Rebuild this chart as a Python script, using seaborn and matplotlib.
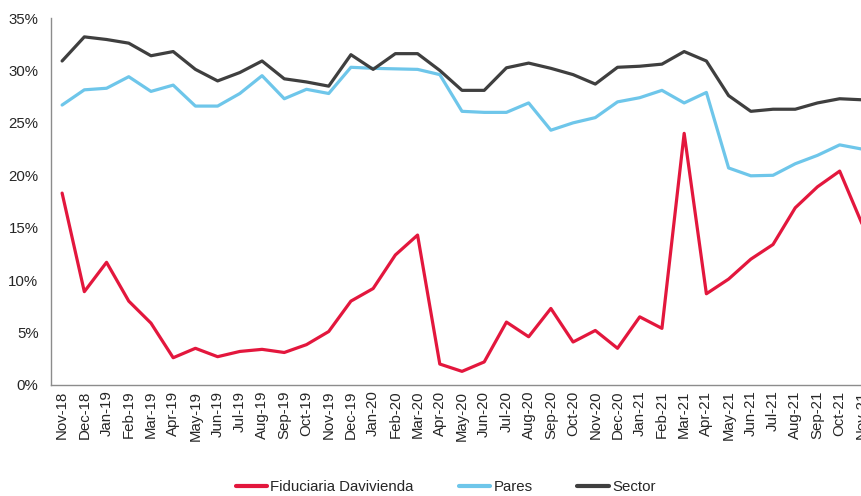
import numpy as np
import pandas as pd
import matplotlib
matplotlib.use('Agg')
import matplotlib.pyplot as plt
from matplotlib.ticker import PercentFormatter
import seaborn as sns

# Monthly series, Nov-18 .. Nov-21
months = ['Nov-18', 'Dec-18', 'Jan-19', 'Feb-19', 'Mar-19', 'Apr-19', 'May-19', 'Jun-19',
          'Jul-19', 'Aug-19', 'Sep-19', 'Oct-19', 'Nov-19', 'Dec-19', 'Jan-20', 'Feb-20',
          'Mar-20', 'Apr-20', 'May-20', 'Jun-20', 'Jul-20', 'Aug-20', 'Sep-20', 'Oct-20',
          'Nov-20', 'Dec-20', 'Jan-21', 'Feb-21', 'Mar-21', 'Apr-21', 'May-21', 'Jun-21',
          'Jul-21', 'Aug-21', 'Sep-21', 'Oct-21', 'Nov-21']

fiduciaria = [18.3, 8.9, 11.7, 8.0, 5.9, 2.6, 3.5, 2.7, 3.2, 3.4, 3.1, 3.85, 5.1,
              8.0, 9.2, 12.4, 14.3, 2.0, 1.3, 2.2, 6.0, 4.6, 7.3, 4.1, 5.2, 3.5,
              6.5, 5.4, 24.0, 8.7, 10.1, 12.0, 13.4, 16.9, 18.9, 20.4, 15.4]

pares = [26.7, 28.15, 28.3, 29.4, 28.0, 28.6, 26.6, 26.6, 27.8, 29.5, 27.3, 28.2, 27.8,
         30.3, 30.2, 30.15, 30.1, 29.6, 26.1, 26.0, 26.0, 26.9, 24.3, 25.0, 25.5, 27.0,
         27.4, 28.1, 26.9, 27.9, 20.7, 19.95, 20.0, 21.1, 21.9, 22.9, 22.5]

sector = [30.9, 33.2, 32.95, 32.6, 31.4, 31.8, 30.1, 29.0, 29.8, 30.9, 29.2, 28.9, 28.5,
          31.5, 30.1, 31.6, 31.6, 30.0, 28.1, 28.1, 30.25, 30.7, 30.2, 29.6, 28.7, 30.3,
          30.4, 30.6, 31.8, 30.9, 27.6, 26.1, 26.3, 26.3, 26.9, 27.3, 27.2]

series_names = ['Fiduciaria Davivienda', 'Pares', 'Sector']
col_pal = ['#E3173D', '#6EC6EA', '#3F3F3F']

frames = []
for name, vals in zip(series_names, [fiduciaria, pares, sector]):
    frames.append(pd.DataFrame({'month_num': np.arange(len(months)),
                                'value': np.array(vals) / 100,
                                'serie': name}))
for_plotting = pd.concat(frames, ignore_index=True)

sns.set_style('white')
plt.rcParams['font.family'] = ['Liberation Sans', 'DejaVu Sans']
plt.rcParams['text.color'] = '#262626'

fig = plt.figure(figsize=(8.62, 4.96), dpi=100)
ax = fig.add_axes([51 / 862, 1 - 385 / 496, (873 - 51) / 862, (385 - 18) / 496])

sns.lineplot(data=for_plotting, x='month_num', y='value', hue='serie',
             hue_order=series_names, palette=col_pal, linewidth=2.3, ax=ax,
             legend=False)

ax.set_xlim(-0.5, len(months) - 0.5)
ax.set_ylim(0, 0.35)
ax.set_yticks(np.arange(0, 0.351, 0.05))
ax.yaxis.set_major_formatter(PercentFormatter(1.0, decimals=0))
ax.set_xticks(np.arange(len(months)))
ax.set_xticklabels(months, rotation=90)
ax.tick_params(axis='both', length=0, labelsize=10.8, colors='#262626')
ax.tick_params(axis='x', pad=4)
ax.tick_params(axis='y', pad=9)
ax.set_xlabel('')
ax.set_ylabel('')

for side in ['top', 'right']:
    ax.spines[side].set_visible(False)
for side in ['left', 'bottom']:
    ax.spines[side].set_color('#8C8C8C')
    ax.spines[side].set_linewidth(1.0)

handles = [plt.Line2D([], [], color=c, linewidth=3) for c in col_pal]
fig.legend(handles=handles, labels=series_names, loc='center',
           bbox_to_anchor=(0.517, 1 - 487 / 496), ncol=3, frameon=False,
           fontsize=10.8, handlelength=2.1, handletextpad=0.2, columnspacing=3.0)

plt.savefig('out.png', dpi=100)
